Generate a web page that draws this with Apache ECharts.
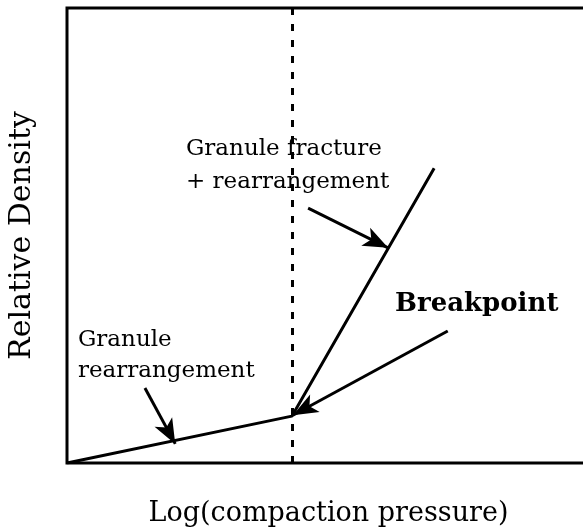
<!DOCTYPE html>
<html lang="en">
<head>
    <meta charset="UTF-8">
    <title>Relative Density vs Log(compaction pressure)</title>
    <script src="https://cdn.jsdelivr.net/npm/echarts@6/dist/echarts.min.js"></script>
    <style>
        body { margin: 0; background: #fff; }
        #chart { width: 583px; height: 531px; }
    </style>
</head>
<body>
    <div id="chart"></div>
    <script>
        // compaction curve (x = log pressure, y = relative density, arbitrary units 0-100)
        const curveX = [0, 43.0, 70.2];
        const curveY = [0, 10.3, 64.8];
        const breakpointX = 43.0;

        // annotation arrows: [fromX, fromY, toX, toY]
        const arrowRearrange = [14.9, 16.5, 20.7, 4.2];
        const arrowFracture = [46.1, 56.0, 61.4, 47.3];
        const arrowBreak = [72.8, 29.0, 43.2, 10.5];

        const xName = 'Log(compaction pressure)';
        const yName = 'Relative Density';
        const serif = 'DejaVu Serif';

        const curveData = curveX.map((x, i) => [x, curveY[i]]);

        function arrowLine(a) {
            return [{ coord: [a[0], a[1]] }, { coord: [a[2], a[3]] }];
        }

        const chart = echarts.init(document.getElementById('chart'));

        const option = {
            animation: false,
            // right edge of the frame is cut off in the original, so the grid runs past the canvas
            grid: {
                left: 67, top: 8, width: 523, height: 455,
                outerBoundsMode: 'none',
                show: true, borderColor: '#000', borderWidth: 3
            },
            xAxis: {
                type: 'value', min: 0, max: 100,
                name: xName, nameLocation: 'middle', nameGap: 37,
                nameTextStyle: { fontFamily: serif, fontSize: 27, color: '#000' },
                axisLine: { show: false },
                axisTick: { show: false },
                axisLabel: { show: false },
                splitLine: { show: false }
            },
            yAxis: {
                type: 'value', min: 0, max: 100,
                name: yName, nameLocation: 'middle', nameGap: 30,
                nameTextStyle: { fontFamily: serif, fontSize: 30, color: '#000' },
                axisLine: { show: false },
                axisTick: { show: false },
                axisLabel: { show: false },
                splitLine: { show: false }
            },
            series: [
                {
                    type: 'line',
                    data: curveData,
                    symbol: 'none',
                    lineStyle: { color: '#000', width: 3 },
                    markLine: {
                        silent: true,
                        symbol: ['none', 'arrow'],
                        symbolSize: [15, 25],
                        label: { show: false },
                        lineStyle: { color: '#000', width: 3, type: 'solid' },
                        data: [
                            arrowLine(arrowRearrange),
                            arrowLine(arrowFracture),
                            arrowLine(arrowBreak),
                            [
                                { coord: [breakpointX, 100], symbol: 'none', lineStyle: { type: [7, 9], width: 3 } },
                                { coord: [breakpointX, 0], symbol: 'none' }
                            ]
                        ]
                    },
                    z: 3
                }
            ],
            graphic: [
                {
                    type: 'text', left: 186, top: 133,
                    style: {
                        text: 'Granule fracture\n+ rearrangement',
                        font: '23px "DejaVu Serif"', fill: '#000', lineHeight: 33
                    }
                },
                {
                    type: 'text', left: 78, top: 325,
                    style: {
                        text: 'Granule\nrearrangement',
                        font: '23px "DejaVu Serif"', fill: '#000', lineHeight: 31
                    }
                },
                {
                    type: 'text', left: 395, top: 291,
                    style: {
                        text: 'Breakpoint',
                        font: 'bold 26px "DejaVu Serif"', fill: '#000'
                    }
                }
            ]
        };

        chart.setOption(option);
    </script>
</body>
</html>
